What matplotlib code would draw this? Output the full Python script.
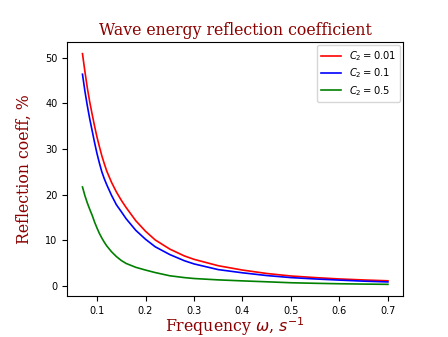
import numpy as np
import matplotlib
matplotlib.use("Agg")
import matplotlib.pyplot as plt

# frequency, 1/s
omega = [0.07, 0.075, 0.08, 0.085, 0.09, 0.095, 0.10, 0.105, 0.11, 0.115, 0.12, 0.13,
         0.14, 0.15, 0.16, 0.18, 0.20, 0.22, 0.25, 0.28, 0.30, 0.35, 0.40, 0.45,
         0.50, 0.55, 0.60, 0.65, 0.70]

# reflection coefficient, %
refl_c001 = [50.9, 47.0, 43.4, 40.3, 37.6, 35.0, 32.6, 30.5, 28.5, 26.8, 25.2, 22.7,
             20.6, 18.8, 17.2, 14.3, 12.0, 10.1, 8.1, 6.6, 5.85, 4.45, 3.5, 2.75,
             2.2, 1.85, 1.55, 1.33, 1.15]
refl_c01 = [46.4, 42.7, 39.5, 36.6, 34.0, 31.4, 29.0, 26.9, 25.0, 23.5, 22.2, 19.85,
            17.8, 16.3, 14.75, 12.2, 10.25, 8.6, 6.9, 5.55, 4.85, 3.6, 2.9, 2.3,
            1.85, 1.55, 1.3, 1.07, 0.9]
refl_c05 = [21.7, 19.8, 18.2, 16.8, 15.5, 14.0, 12.7, 11.5, 10.5, 9.6, 8.8, 7.5,
            6.45, 5.6, 4.95, 4.1, 3.5, 2.95, 2.25, 1.85, 1.65, 1.35, 1.13, 0.93,
            0.72, 0.6, 0.5, 0.43, 0.37]

labels = ["$C_2 = 0.01$", "$C_2 = 0.1$", "$C_2 = 0.5$"]
colors = ["red", "blue", "green"]

fig = plt.figure(figsize=(4.48, 3.37), dpi=100)
ax = fig.add_axes([0.15, 0.122, 0.75, 0.753])

for vals, lab, col in zip([refl_c001, refl_c01, refl_c05], labels, colors):
    ax.plot(omega, vals, color=col, lw=1.2, label=lab)

title_font = {"family": "DejaVu Serif", "color": "darkred", "size": 11.3}
ax.set_title("Wave energy reflection coefficient", fontdict=title_font, pad=5)
ax.set_xlabel(r"Frequency $\omega$, $s^{-1}$", fontdict=title_font, labelpad=0)
ax.set_ylabel("Reflection coeff, %", fontdict=title_font, labelpad=9)
ax.tick_params(labelsize=7)
ax.legend(fontsize=7.2, loc="upper right", labelspacing=0.35, borderaxespad=0.3)

fig.savefig("out.png", dpi=100)
